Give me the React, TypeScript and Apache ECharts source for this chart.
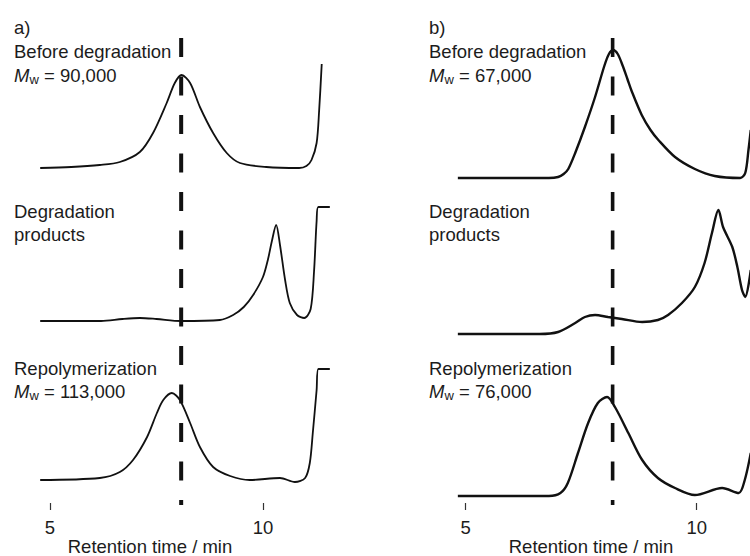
import React, { useEffect, useRef } from "react";
import * as echarts from "echarts";

// Retention time (min) vs detector signal (arbitrary units, baseline = 0)
const panelABefore: number[][] = [
  [4.77, 0], [5.5, 1], [6.17, 3], [6.64, 6], [7.11, 16], [7.42, 35], [7.74, 65], [7.93, 85],
  [8.09, 93], [8.29, 85], [8.52, 61], [8.83, 35], [9.15, 15], [9.46, 5], [10.08, 1], [10.85, 0],
  [11.02, 2], [11.14, 8], [11.26, 25], [11.32, 58], [11.38, 104],
];
const panelADegradation: number[][] = [
  [4.77, 0], [6.2, 0], [6.7, 2], [7.11, 3], [7.5, 2], [8.08, 0], [8.99, 1], [9.3, 6], [9.55, 14],
  [9.77, 26], [10.0, 44], [10.12, 62], [10.21, 80], [10.31, 96], [10.4, 76], [10.52, 41],
  [10.63, 18], [10.8, 6], [10.97, 3], [11.12, 12], [11.2, 50], [11.26, 100], [11.3, 114], [11.57, 114],
];
const panelARepolymer: number[][] = [
  [4.77, 0], [6.17, 2], [6.64, 8], [6.95, 20], [7.28, 43], [7.51, 67], [7.66, 80], [7.86, 87],
  [8.05, 80], [8.29, 57], [8.52, 33], [8.83, 13], [9.23, 4], [9.69, 0], [10.4, 2], [10.75, -2],
  [10.99, 2], [11.1, 17], [11.17, 47], [11.26, 90], [11.3, 111], [11.57, 111],
];
const panelBBefore: number[][] = [
  [4.83, 0], [6.8, 0], [7.0, 1], [7.12, 4], [7.22, 9], [7.37, 25], [7.58, 51], [7.8, 81],
  [8.0, 112], [8.1, 124], [8.19, 128], [8.29, 124], [8.4, 112], [8.5, 99], [8.6, 86],
  [8.81, 63], [9.0, 48], [9.17, 38], [9.53, 21], [9.96, 9], [10.39, 2], [10.94, 0],
  [11.05, 5], [11.12, 28], [11.17, 48],
];
const panelBDegradation: number[][] = [
  [4.83, 0], [6.6, 0], [7.0, 2], [7.37, 11], [7.58, 17], [7.8, 19], [8.08, 17], [8.38, 15], [8.82, 12],
  [9.16, 14], [9.38, 19], [9.68, 31], [9.96, 47], [10.17, 71], [10.33, 101], [10.47, 124],
  [10.57, 107], [10.77, 87], [10.88, 67], [10.98, 44], [11.05, 37], [11.17, 64],
];
const panelBRepolymer: number[][] = [
  [4.83, 0], [6.8, 0], [7.05, 3], [7.21, 13], [7.43, 43], [7.65, 73], [7.86, 93], [8.06, 99],
  [8.23, 89], [8.52, 63], [8.82, 36], [9.16, 18], [9.53, 8], [9.96, 1], [10.55, 8], [10.91, 3],
  [11.04, 16], [11.17, 43],
];

// Reference retention time (dashed line)
const refTimeA = 8.08;
const refTimeB = 8.18;

const tickValues = [5, 10];
const xTitle = "Retention time / min";

const panelALabels = ["a)", "Before degradation", "90,000", "Degradation", "products", "Repolymerization", "113,000"];
const panelBLabels = ["b)", "Before degradation", "67,000", "Degradation", "products", "Repolymerization", "76,000"];

const FONT = '"Liberation Sans", Arial, Helvetica, sans-serif';
const INK = "#111";
const TXT = "#1c1c1c";
const FS = 18.5;

// Layout (pixels)
const GRID_TOP = 38;
const GRID_H = 467;
const offsetsA = [337, 184, 25];
const offsetsB = [327, 171, 9];

function shift(data: number[][], off: number) {
  return data.map(([t, v]) => [t, v + off]);
}

function panelTexts(labels: string[], x: number) {
  const ys = [27, 51, 75, 211, 234, 368, 391];
  const els: any[] = [];
  labels.forEach((s, i) => {
    const isMw = i === 2 || i === 6;
    els.push({
      type: "text",
      x,
      y: ys[i],
      style: {
        text: isMw ? `{i|M}{s|w} = ${s}` : s,
        fill: TXT,
        fontSize: FS,
        fontFamily: FONT,
        verticalAlign: "middle",
        align: "left",
        rich: isMw
          ? {
              i: { fontStyle: "italic", fontSize: FS, fontFamily: FONT, fill: TXT, lineHeight: 22 },
              s: { fontSize: 13, fontFamily: FONT, fill: TXT, verticalAlign: "bottom", lineHeight: 22 },
            }
          : undefined,
      },
    });
  });
  return els;
}

export default function App() {
  const ref = useRef<HTMLDivElement>(null);
  useEffect(() => {
    if (!ref.current) return;
    const chart = echarts.init(ref.current, undefined, { renderer: "svg" });
    const xAxisBase = (min: number, max: number, gridIndex: number) => ({
      type: "value",
      gridIndex,
      min,
      max,
      offset: -2,
      axisLine: { show: false },
      splitLine: { show: false },
      axisTick: {
        show: true,
        customValues: tickValues,
        length: 7,
        inside: false,
        lineStyle: { color: "#333", width: 1.2 },
      },
      axisLabel: {
        show: true,
        customValues: tickValues,
        fontSize: FS,
        fontFamily: FONT,
        color: TXT,
        margin: 15,
      },
    });
    const yAxisBase = (gridIndex: number) => ({
      type: "value",
      gridIndex,
      min: 0,
      max: GRID_H,
      show: false,
      splitLine: { show: false },
    });
    const trace = (data: number[][], off: number, idx: number, width: number) => ({
      type: "line",
      xAxisIndex: idx,
      yAxisIndex: idx,
      data: shift(data, off),
      showSymbol: false,
      smooth: 0.3,
      clip: true,
      lineStyle: { color: INK, width },
      silent: true,
    });
    const dashed = (t: number, idx: number, width: number) => ({
      type: "line",
      xAxisIndex: idx,
      yAxisIndex: idx,
      data: [
        [t, GRID_H],
        [t, 0],
      ],
      showSymbol: false,
      clip: false,
      lineStyle: { color: INK, width, type: [19, 19.5], cap: "butt" },
      silent: true,
    });
    chart.setOption({
      animation: false,
      backgroundColor: "#fff",
      grid: [
        { left: 37.2, top: GRID_TOP, width: 293.9, height: GRID_H, outerBoundsMode: "none", containLabel: false },
        { left: 456.46, top: GRID_TOP, width: 295.7, height: GRID_H, outerBoundsMode: "none", containLabel: false },
      ],
      xAxis: [xAxisBase(4.7, 11.6, 0), xAxisBase(4.8, 11.2, 1)],
      yAxis: [yAxisBase(0), yAxisBase(1)],
      series: [
        trace(panelABefore, offsetsA[0], 0, 1.8),
        trace(panelADegradation, offsetsA[1], 0, 1.8),
        trace(panelARepolymer, offsetsA[2], 0, 1.8),
        dashed(refTimeA, 0, 4),
        trace(panelBBefore, offsetsB[0], 1, 2.4),
        trace(panelBDegradation, offsetsB[1], 1, 2.4),
        trace(panelBRepolymer, offsetsB[2], 1, 2.4),
        dashed(refTimeB, 1, 3.6),
      ],
      graphic: [
        ...panelTexts(panelALabels, 14),
        ...panelTexts(panelBLabels, 429),
        {
          type: "text",
          x: 150,
          y: 546,
          style: { text: xTitle, fill: TXT, fontSize: FS, fontFamily: FONT, align: "center", verticalAlign: "middle" },
        },
        {
          type: "text",
          x: 591,
          y: 546,
          style: { text: xTitle, fill: TXT, fontSize: FS, fontFamily: FONT, align: "center", verticalAlign: "middle" },
        },
      ],
    });
    return () => chart.dispose();
  }, []);
  return (
    <div
      ref={ref}
      style={{ position: "fixed", left: 0, top: 0, width: 750, height: 556, overflow: "hidden", background: "#fff" }}
    />
  );
}
